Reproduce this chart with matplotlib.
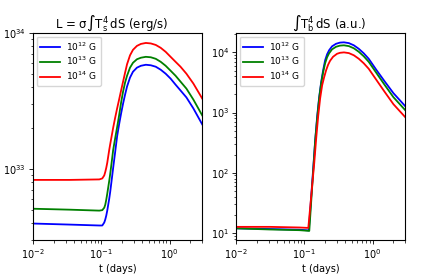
import numpy as np
import matplotlib
matplotlib.use('Agg')
import matplotlib.pyplot as plt
from matplotlib.ticker import NullFormatter

plt.rcParams['mathtext.default'] = 'regular'

labels = ['10$^{12}$ G', '10$^{13}$ G', '10$^{14}$ G']
colors = ['b', 'g', 'r']

# левая панель: L = sigma * int Ts^4 dS (erg/s)
t_L = [0.01, 0.0344, 0.0935, 0.1034, 0.1105, 0.1143, 0.1182, 0.1222, 0.1306, 0.135, 0.1396,
       0.1443, 0.1492, 0.1595, 0.1705, 0.1823, 0.1949, 0.2084, 0.2228, 0.2382, 0.2632, 0.2909,
       0.3325, 0.38, 0.449, 0.5306, 0.627, 0.7409, 0.8754, 1.034, 1.222, 1.444, 1.762, 2.227, 3.0]
L_12 = [3.97e32, 3.90e32, 3.84e32, 3.84e32, 4.04e32, 4.25e32, 4.54e32, 4.94e32, 6.04e32, 6.79e32,
        7.77e32, 8.89e32, 1.02e33, 1.33e33, 1.74e33, 2.13e33, 2.56e33, 3.03e33, 3.52e33, 4.04e33,
        4.70e33, 5.19e33, 5.56e33, 5.74e33, 5.84e33, 5.79e33, 5.65e33, 5.37e33, 5.02e33, 4.62e33,
        4.17e33, 3.78e33, 3.36e33, 2.79e33, 2.13e33]
L_13 = [5.10e32, 5.02e32, 4.94e32, 4.98e32, 5.19e32, 5.46e32, 5.94e32, 6.57e32, 8.17e32, 9.19e32,
        1.05e33, 1.20e33, 1.38e33, 1.68e33, 2.03e33, 2.48e33, 3.08e33, 3.71e33, 4.32e33, 4.85e33,
        5.56e33, 6.04e33, 6.41e33, 6.58e33, 6.68e33, 6.63e33, 6.46e33, 6.14e33, 5.74e33, 5.28e33,
        4.85e33, 4.39e33, 3.90e33, 3.24e33, 2.48e33]
L_14 = [8.31e32, 8.31e32, 8.38e32, 8.52e32, 8.97e32, 9.51e32, 1.02e33, 1.11e33, 1.38e33, 1.52e33,
        1.67e33, 1.83e33, 2.01e33, 2.38e33, 2.79e33, 3.24e33, 3.78e33, 4.39e33, 5.10e33, 5.89e33,
        6.85e33, 7.52e33, 8.04e33, 8.31e33, 8.45e33, 8.38e33, 8.17e33, 7.78e33, 7.27e33, 6.68e33,
        6.14e33, 5.65e33, 5.02e33, 4.25e33, 3.30e33]

# правая панель: int Tb^4 dS (a.u.)
t_T12 = [0.01, 0.0311, 0.0847, 0.1162, 0.1443, 0.1542, 0.1649, 0.1763, 0.1885, 0.2015, 0.2154,
         0.2303, 0.2546, 0.2909, 0.3325, 0.38, 0.449, 0.5306, 0.627, 0.7409, 0.8754, 1.143,
         1.493, 2.015, 3.0]
T_12 = [11.9, 11.6, 11.3, 11.0, 348, 872, 1800, 3192, 5050, 7400, 9296, 10840, 12620, 13890,
        14540, 14700, 14260, 13110, 11470, 9656, 7834, 5050, 3318, 2100, 1277]
t_T13 = [0.01, 0.0311, 0.0847, 0.1181, 0.1443, 0.1542, 0.1649, 0.1763, 0.1885, 0.2015, 0.2154,
         0.2303, 0.2546, 0.2909, 0.3325, 0.38, 0.449, 0.5306, 0.627, 0.7409, 0.8754, 1.143,
         1.493, 2.015, 3.0]
T_13 = [11.9, 11.4, 11.1, 10.8, 348, 807, 1733, 3073, 4677, 6592, 8298, 9656, 11250, 12390,
        12960, 13110, 12710, 11700, 10230, 8614, 6982, 4498, 2902, 1800, 1097]
t_T14 = [0.01, 0.0311, 0.0847, 0.1143, 0.1396, 0.1492, 0.1595, 0.1705, 0.1823, 0.1949, 0.2084,
         0.2228, 0.2382, 0.2632, 0.3008, 0.3325, 0.38, 0.449, 0.5306, 0.627, 0.7409, 0.8754,
         1.143, 1.493, 2.015, 3.0]
T_14 = [12.6, 12.6, 12.3, 12.1, 145, 376, 872, 1733, 2846, 3865, 5050, 6226, 7256, 8455, 9477,
        9840, 10000, 9730, 8950, 7834, 6592, 5346, 3444, 2222, 1377, 839]

fig = plt.figure(figsize=(4.23, 2.75), dpi=100)
ax1 = fig.add_axes([0.078, 0.127, 0.4, 0.753])
ax2 = fig.add_axes([0.558, 0.127, 0.4, 0.753])

for y, c, lab in zip([L_12, L_13, L_14], colors, labels):
    ax1.plot(t_L, y, color=c, lw=1.3, label=lab)
for t, y, c, lab in zip([t_T12, t_T13, t_T14], [T_12, T_13, T_14], colors, labels):
    ax2.plot(t, y, color=c, lw=1.3, label=lab)

ax1.set_xscale('log')
ax1.set_yscale('log')
ax1.set_xlim(0.01, 3)
ax1.set_ylim(3.0e32, 1e34)
ax1.set_title(r'L = $\sigma\int T_s^4\,$dS (erg/s)', fontsize=8.5, pad=3, x=0.467)

ax2.set_xscale('log')
ax2.set_yscale('log')
ax2.set_xlim(0.01, 3)
ax2.set_ylim(7.6, 2.1e4)
ax2.set_title(r'$\int T_b^4\,$dS (a.u.)', fontsize=8.5, pad=3, x=0.55)

for ax in (ax1, ax2):
    ax.set_xlabel('t (days)', fontsize=7, labelpad=2)
    ax.tick_params(labelsize=7, length=3, width=0.6, pad=2)
    ax.tick_params(which='minor', length=1.8, width=0.5)
    ax.yaxis.set_minor_formatter(NullFormatter())
    for s in ax.spines.values():
        s.set_linewidth(0.8)
    ax.legend(loc='upper left', fontsize=6.5, handlelength=2.2, borderpad=0.4,
              labelspacing=0.25, handletextpad=0.7, borderaxespad=0.4)

plt.savefig('out.png', dpi=100)
